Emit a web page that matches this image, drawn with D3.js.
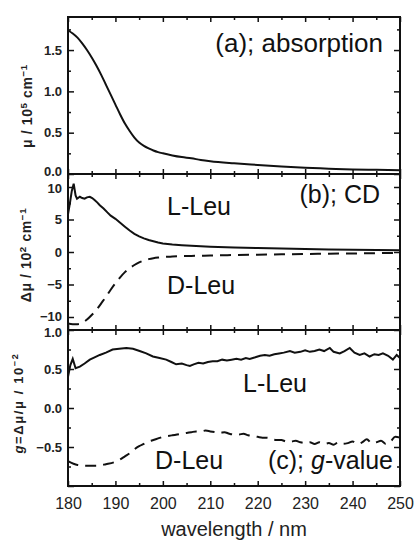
<!DOCTYPE html>
<html>
<head>
<meta charset="utf-8">
<script src="https://cdn.jsdelivr.net/npm/d3@7"></script>
<style>
  body { margin: 0; background: #fff; }
  svg { display: block; font-family: "Liberation Sans", Arial, sans-serif; }
  .frame { fill: none; stroke: #111; stroke-width: 2; }
  .tick line { stroke: #111; stroke-width: 1.5; }
  .ylab text { font-size: 13px; font-weight: bold; fill: #222; }
  .xlab text { font-size: 16px; fill: #222; }
  .curve { fill: none; stroke: #111; stroke-width: 2; }
  .dash { stroke-dasharray: 11 7; }
  .note { font-size: 25px; fill: #111; }
  .ytitle { white-space: pre; font-weight: bold; fill: #222; }
</style>
</head>
<body>
<script>
// (a) absorption
const absWl = [180,181,182,183,184,185,186,187,188,189,190,191,192,193,194,195,196,197,198,199,200,202,204,206,208,210,215,220,225,230,235,240,245,250]
const absVal = [1.74,1.70,1.65,1.58,1.50,1.41,1.31,1.20,1.08,0.96,0.84,0.72,0.61,0.52,0.44,0.38,0.34,0.31,0.285,0.265,0.25,0.225,0.205,0.19,0.17,0.155,0.13,0.11,0.09,0.075,0.065,0.055,0.05,0.045]

// (b) CD, L-Leu solid, D-Leu dashed
const cdLWl = [180,180.4,180.8,181.2,181.6, 181.9,182.5,183,183.5,184, 184.6,185.1,185.6,186.2,186.7, 187.5,188.3,189,190,191,
    192,193,194,195,196, 197,198,199,200,202, 204,206,208,210,215, 220,225,230,235,240, 245,250]
const cdLVal = [5.8,7.5,9.4,10.5,8.7, 8.2,8.5,8.3,8.2,8.4, 8.5,8.3,8.0,7.6,7.2, 6.7,6.1,5.6,5.1,4.5,
    3.9,3.3,2.8,2.4,2.1, 1.85,1.65,1.45,1.3,1.15, 1.05,0.95,0.88,0.82,0.7, 0.6,0.52,0.45,0.4,0.36, 0.32,0.28]
const cdDWl = absWl
const cdDVal = [-11.0,-11.1,-11.1,-10.9,-10.4,-9.7,-8.9,-7.9,-6.9,-5.8,-4.8,-3.9,-3.1,-2.5,-2.0,-1.6,-1.3,-1.1,-0.95,-0.85,-0.78,
    -0.7,-0.64,-0.6,-0.57,-0.54,-0.47,-0.41,-0.36,-0.31,-0.26,-0.22,-0.18,-0.14]

// (c) g-value
const gLWl = [180,180.5,181,181.6,182.5, 183.5,184.6,185.6,186.7,188, 189.4,190.8,192.3,193.7,195.1, 196.5,197.9,199.3,200.7,201.8,
    202.8,204,205,205.7,206.5, 207.5,208.5,209.5,210.5,211.5, 212.5,213.5,214.5,215.5,216.5, 217.5,218.3,219.5,220.5,221.5,
    222.5,223.5,224.5,225.5,226.8, 227.8,229,230,231,232, 233,234,235.2,236,237.3, 238.3,239.4,240.4,241.5,242.5,
    243.6,244.6,245.5,246.4,247.5, 248.5,249.3,250]
const gLVal = [0.40,0.55,0.63,0.51,0.53, 0.57,0.62,0.65,0.68,0.71, 0.75,0.76,0.77,0.76,0.73, 0.70,0.66,0.64,0.62,0.59,
    0.56,0.57,0.55,0.54,0.56, 0.58,0.57,0.59,0.60,0.60, 0.62,0.61,0.62,0.63,0.62, 0.64,0.63,0.65,0.67,0.68,
    0.67,0.69,0.70,0.71,0.73, 0.71,0.72,0.74,0.72,0.73, 0.75,0.73,0.77,0.72,0.70, 0.73,0.77,0.71,0.68,0.70,
    0.66,0.69,0.68,0.70,0.67, 0.62,0.68,0.64]
const gDWl = [180,182,184,186,188, 190,191,192,193,194, 195,196,197,198,199, 200,201,202,203,204, 205,206,207,208,209,
    210,211,212,213,214, 215,216,217,218,219, 220,221,222,223,224, 225,226,227,228,229, 230,231,232,233,234,
    235,236,237,238,239, 240,241,242,243,244, 245,246,247,248,249, 250]
const gDVal = [-0.68,-0.73,-0.74,-0.74,-0.72, -0.69,-0.66,-0.62,-0.58,-0.53, -0.49,-0.46,-0.43,-0.41,-0.39,
    -0.37,-0.36,-0.35,-0.34,-0.33, -0.32,-0.31,-0.30,-0.30,-0.29, -0.30,-0.31,-0.32,-0.31,-0.33,
    -0.34,-0.34,-0.33,-0.35,-0.36, -0.37,-0.38,-0.38,-0.40,-0.41, -0.41,-0.43,-0.43,-0.42,-0.44,
    -0.45,-0.44,-0.46,-0.44,-0.46, -0.45,-0.47,-0.44,-0.46,-0.45, -0.43,-0.46,-0.44,-0.40,-0.45,
    -0.44,-0.42,-0.46,-0.43,-0.37, -0.38]

const xMajor = [180,190,200,210,220,230,240,250]
const xMinor = [185,195,205,215,225,235,245]

const margin = { top: 17, right: 14, bottom: 55, left: 68 }
const W = 414, H = 541
const width = W - margin.left - margin.right
const panelTops = [0, 157, 313, 469] // panel edges inside the plot group

const svg = d3.select('body').append('svg')
    .attr('width', W)
    .attr('height', H)

const g = svg.append('g')
    .attr('transform', `translate(${margin.left},${margin.top})`)

const x = d3.scaleLinear().domain([180, 250]).range([0, width])

// labelShift nudges the labels that sit on a shared panel edge
const panels = [
    { domain: [0, 1.9], major: [0, 0.5, 1, 1.5], minor: [0.25, 0.75, 1.25, 1.75], labels: [0, 0.5, 1, 1.5], fmt: d3.format('.1f'),
      labelShift: { 0: -3 },
      series: [{ wl: absWl, val: absVal, dash: false, smooth: true }] },
    { domain: [-12, 12], major: [-10, -5, 0, 5, 10], minor: [-7.5, -2.5, 2.5, 7.5], labels: [-10, -5, 0, 5, 10], fmt: d3.format('d'),
      labelShift: { 10: 1, '-10': -1 },
      series: [{ wl: cdLWl, val: cdLVal, dash: false, smooth: false }, { wl: cdDWl, val: cdDVal, dash: true, smooth: true }] },
    { domain: [-1, 1], major: [-1, -0.5, 0, 0.5, 1], minor: [-0.75, -0.25, 0.25, 0.75], labels: [-0.5, 0, 0.5, 1], fmt: d3.format('.1f'),
      labelShift: { 1: 2 },
      series: [{ wl: gLWl, val: gLVal, dash: false, smooth: false }, { wl: gDWl, val: gDVal, dash: true, smooth: true }] }
]

panels.forEach((p, i) => {
    const top = panelTops[i], bottom = panelTops[i + 1]
    const h = bottom - top
    const y = d3.scaleLinear().domain(p.domain).range([h, 0])
    const pg = g.append('g').attr('transform', `translate(0,${top})`)

    // x ticks pointing into the panel from top and bottom
    pg.append('g').call(d3.axisTop(x).tickValues(xMajor).tickSize(-5).tickFormat(''))
    pg.append('g').call(d3.axisTop(x).tickValues(xMinor).tickSize(-3).tickFormat(''))
    pg.append('g').attr('transform', `translate(0,${h})`)
        .attr('class', i === 2 ? 'xlab' : null)
        .call(d3.axisBottom(x).tickValues(xMajor).tickSize(-5).tickPadding(12)
            .tickFormat(i === 2 ? d3.format('d') : ''))
    pg.append('g').attr('transform', `translate(0,${h})`)
        .call(d3.axisBottom(x).tickValues(xMinor).tickSize(-3).tickFormat(''))

    // y ticks, labels only on the left
    const yl = pg.append('g').attr('class', 'ylab')
        .call(d3.axisLeft(y).tickValues(p.major).tickSize(-6).tickPadding(6)
            .tickFormat(d => p.labels.includes(d) ? p.fmt(d) : ''))
    yl.selectAll('.tick text')
        .attr('y', d => p.labelShift[d] || 0)
    pg.append('g').call(d3.axisLeft(y).tickValues(p.minor).tickSize(-3).tickFormat(''))
    pg.append('g').attr('transform', `translate(${width},0)`)
        .call(d3.axisRight(y).tickValues(p.major).tickSize(-6).tickFormat(''))
    pg.append('g').attr('transform', `translate(${width},0)`)
        .call(d3.axisRight(y).tickValues(p.minor).tickSize(-3).tickFormat(''))

    pg.selectAll('.domain').remove()

    p.series.forEach(s => {
        const line = d3.line()
            .x((d, j) => x(s.wl[j]))
            .y(d => y(d))
            .curve(s.smooth ? d3.curveMonotoneX : d3.curveLinear)
        pg.append('path')
            .attr('class', s.dash ? 'curve dash' : 'curve')
            .attr('d', line(s.val))
    })

    pg.append('rect').attr('class', 'frame')
        .attr('width', width).attr('height', h)

    p.g = pg
})

// y-axis titles
function yTitle(cx, cy, parts, size, spacing) {
    const t = svg.append('text')
        .attr('class', 'ytitle')
        .attr('transform', `translate(${cx},${cy}) rotate(-90)`)
        .attr('text-anchor', 'middle')
        .style('font-size', size + 'px')
        .style('letter-spacing', spacing + 'px')
    parts.forEach(([txt, kind]) => {
        const ts = t.append('tspan').text(txt)
        if (kind === 'sup') ts.attr('baseline-shift', 'super').style('font-size', (size * 0.7) + 'px')
        if (kind === 'it') ts.style('font-style', 'italic')
    })
}
yTitle(32, 106, [['μ / 10'], ['5', 'sup'], [' cm'], ['−1', 'sup']], 14, 0.6)
yTitle(31, 255, [['Δμ / 10'], ['2', 'sup'], [' cm'], ['−1', 'sup']], 14, 0.6)
yTitle(23, 403, [['g', 'it'], ['=Δμ/μ / 10'], ['−2', 'sup']], 13, 1.6)

// panel annotations
const note = (pg, xv, yv, txt, anchor, size) => pg.append('text')
    .attr('class', 'note')
    .attr('x', xv).attr('y', yv)
    .attr('text-anchor', anchor)
    .style('font-size', (size || 25) + 'px')
    .text(txt)

note(panels[0].g, width - 17, 35, '(a); absorption', 'end', 26)
note(panels[1].g, width - 20, 29, '(b); CD', 'end')
note(panels[1].g, 99, 41, 'L-Leu', 'start')
note(panels[1].g, 99, 120, 'D-Leu', 'start')
note(panels[2].g, 175, 62, 'L-Leu', 'start')
note(panels[2].g, 87, 139, 'D-Leu', 'start')
const cNote = panels[2].g.append('text').attr('class', 'note')
    .attr('x', width - 7).attr('y', 139).attr('text-anchor', 'end')
cNote.append('tspan').text('(c); ')
cNote.append('tspan').style('font-style', 'italic').text('g')
cNote.append('tspan').text('-value')

// x-axis title
svg.append('text')
    .attr('x', margin.left + width / 2)
    .attr('y', 536)
    .attr('text-anchor', 'middle')
    .style('font-size', '20px')
    .style('fill', '#222')
    .text('wavelength / nm')
</script>
</body>
</html>
